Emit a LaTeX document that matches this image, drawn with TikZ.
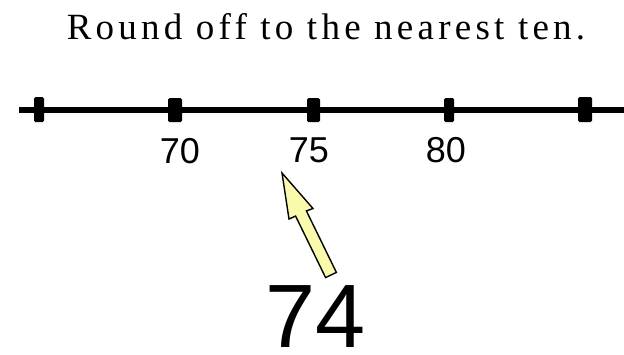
\documentclass[tikz,border=0pt]{standalone}
\usepackage{fontspec}
\setmainfont{Liberation Serif}
\newfontfamily\numfont{Liberation Sans}
\newfontfamily\titlefont[LetterSpace=11.5]{Liberation Serif}
\definecolor{arrowyellow}{RGB}{250,250,172}
\begin{document}
\begin{tikzpicture}[x=1pt,y=-1pt,
  tickbox/.style={fill=black,rounded corners=1.5pt},
  numlabel/.style={anchor=base,inner sep=0pt,font=\numfont\fontsize{36}{36}\selectfont},
  arrowshape/.style={draw=black,line width=1.4pt,fill=arrowyellow,line join=miter}]
\useasboundingbox (0,0) rectangle (624,354);
\node[anchor=base,inner sep=0pt,font=\titlefont\fontsize{37}{37}\selectfont] (title) at (326,39) {Round off to the nearest ten.};
% number line
\coordinate (lstart) at (19,110);
\coordinate (lend) at (624,110);
\draw[line width=6pt] (lstart) -- (lend);
\fill[tickbox] (34,97) rectangle (44,122);
\fill[tickbox] (168,98) rectangle (182,122);
\fill[tickbox] (307,98) rectangle (320,122);
\fill[tickbox] (444,98) rectangle (454,122);
\fill[tickbox] (578,97) rectangle (592,122);
\node[numlabel] (n70) at (180,163) {70};
\node[numlabel] (n75) at (309,162) {75};
\node[numlabel] (n80) at (446,162) {80};
% arrow
\draw[arrowshape] (282,173) -- (313,208.5) -- (306.4,210.9) -- (336.4,272.4) -- (325.6,277.6) -- (295.6,216.1) -- (289,219) -- cycle;
\node[anchor=base,inner sep=0pt,font=\numfont\fontsize{90}{90}\selectfont] (n74) at (316,347) {74};
\end{tikzpicture}
\end{document}
